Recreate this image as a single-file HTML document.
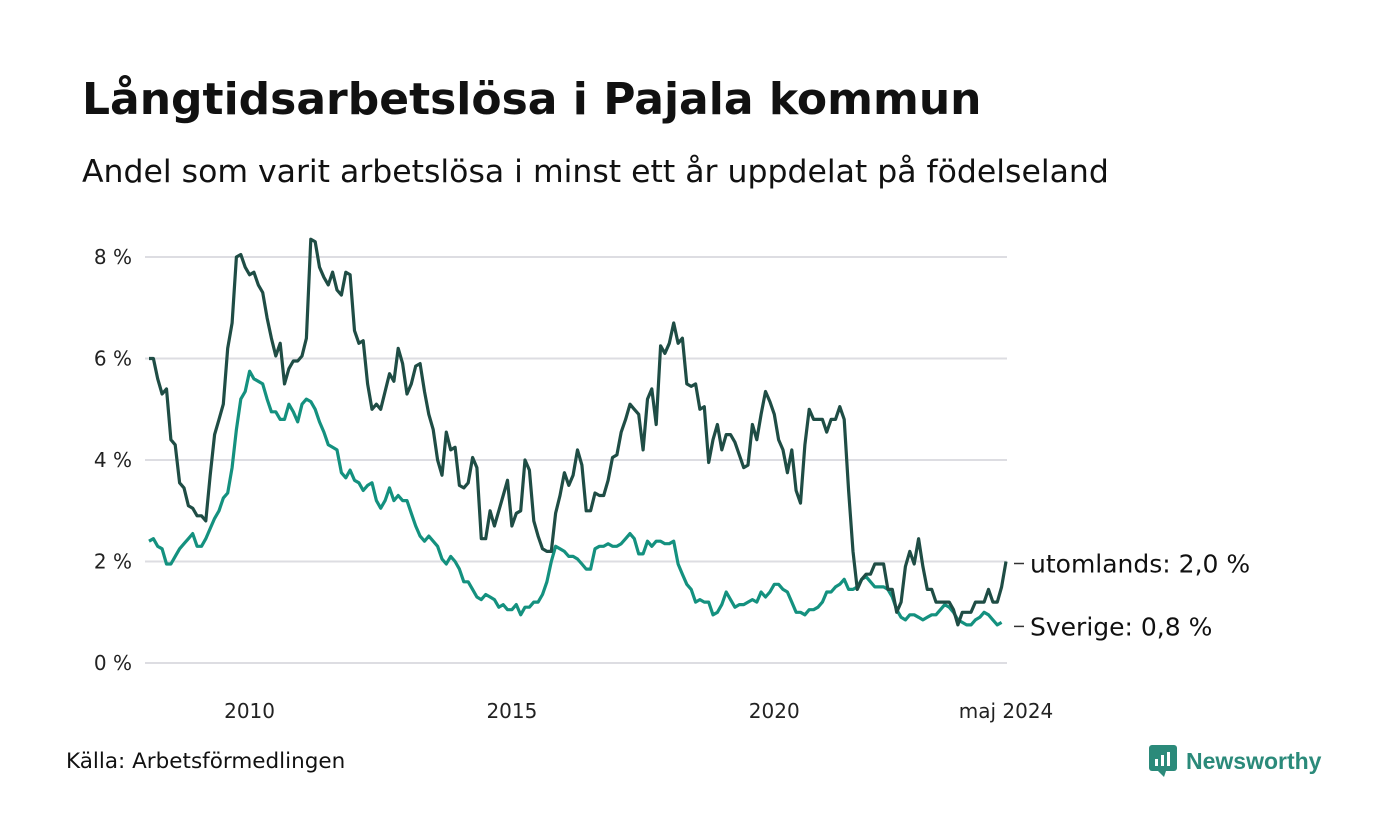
<!DOCTYPE html>
<html><head><meta charset="utf-8"><style>
body{margin:0;width:1400px;height:840px;background:#fff;font-family:"DejaVu Sans","Liberation Sans",sans-serif;overflow:hidden;position:relative}
.t{position:absolute;left:82px;top:74px;font-size:44px;font-weight:bold;color:#111}
.s{position:absolute;left:82px;top:154px;font-size:31.5px;color:#111}
.src{position:absolute;left:66px;top:749px;font-size:21.5px;color:#111}
.logo{position:absolute;left:1148px;top:744px;font-size:23px;font-weight:bold;color:#2b8a7a;display:flex;align-items:center;gap:8px;font-family:"Liberation Sans",sans-serif}
</style></head><body>
<div class="t">Långtidsarbetslösa i Pajala kommun</div>
<div class="s">Andel som varit arbetslösa i minst ett år uppdelat på födelseland</div>
<svg id="chart" width="1400" height="840" style="position:absolute;left:0;top:0"></svg>
<div class="src">Källa: Arbetsförmedlingen</div>
<div class="logo"><svg width="30" height="34"><rect x="1" y="1" width="28" height="26" rx="3" fill="#2b8a7a"/><polygon points="10,27 16,33 18,27" fill="#2b8a7a"/><rect x="7" y="15" width="3" height="7" fill="#fff"/><rect x="13" y="11" width="3" height="11" fill="#fff"/><rect x="19" y="8" width="3" height="14" fill="#fff"/></svg><span>Newsworthy</span></div>
<script>
const yTicks=[0,2,4,6,8];
const yTickLabels=["0 %","2 %","4 %","6 %","8 %"];
const xTicks=[2010,2015,2020];
const startYear=2008+1/12;
const utomlands=[6.0,6.0,5.6,5.3,5.4,4.4,4.3,3.55,3.45,3.1,3.05,2.9,2.9,2.8,3.7,4.5,4.8,5.1,6.2,6.7,8.0,8.05,7.8,7.65,7.7,7.45,7.3,6.8,6.4,6.05,6.3,5.5,5.8,5.95,5.95,6.05,6.4,8.35,8.3,7.8,7.6,7.45,7.7,7.35,7.25,7.7,7.65,6.55,6.3,6.35,5.5,5.0,5.1,5.0,5.35,5.7,5.55,6.2,5.9,5.3,5.5,5.85,5.9,5.35,4.9,4.6,4.0,3.7,4.55,4.2,4.25,3.5,3.45,3.55,4.05,3.85,2.45,2.45,3.0,2.7,3.0,3.3,3.6,2.7,2.95,3.0,4.0,3.8,2.8,2.5,2.25,2.2,2.2,2.95,3.3,3.75,3.5,3.7,4.2,3.9,3.0,3.0,3.35,3.3,3.3,3.6,4.05,4.1,4.55,4.8,5.1,5.0,4.9,4.2,5.2,5.4,4.7,6.25,6.1,6.3,6.7,6.3,6.4,5.5,5.45,5.5,5.0,5.05,3.95,4.4,4.7,4.2,4.5,4.5,4.35,4.1,3.85,3.9,4.7,4.4,4.9,5.35,5.15,4.9,4.4,4.2,3.75,4.2,3.4,3.15,4.3,5.0,4.8,4.8,4.8,4.55,4.8,4.8,5.05,4.8,3.4,2.2,1.45,1.65,1.75,1.75,1.95,1.95,1.95,1.45,1.45,1.0,1.2,1.9,2.2,1.95,2.45,1.9,1.45,1.45,1.2,1.2,1.2,1.2,1.05,0.75,1.0,1.0,1.0,1.2,1.2,1.2,1.45,1.2,1.2,1.5,2.0];
const sverige=[2.4,2.45,2.3,2.25,1.95,1.95,2.1,2.25,2.35,2.45,2.55,2.3,2.3,2.45,2.65,2.85,3.0,3.25,3.35,3.85,4.6,5.2,5.35,5.75,5.6,5.55,5.5,5.2,4.95,4.95,4.8,4.8,5.1,4.95,4.75,5.1,5.2,5.15,5.0,4.75,4.55,4.3,4.25,4.2,3.75,3.65,3.8,3.6,3.55,3.4,3.5,3.55,3.2,3.05,3.2,3.45,3.2,3.3,3.2,3.2,2.95,2.7,2.5,2.4,2.5,2.4,2.3,2.05,1.95,2.1,2.0,1.85,1.6,1.6,1.45,1.3,1.25,1.35,1.3,1.25,1.1,1.15,1.05,1.05,1.15,0.95,1.1,1.1,1.2,1.2,1.35,1.6,2.0,2.3,2.25,2.2,2.1,2.1,2.05,1.95,1.85,1.85,2.25,2.3,2.3,2.35,2.3,2.3,2.35,2.45,2.55,2.45,2.15,2.15,2.4,2.3,2.4,2.4,2.35,2.35,2.4,1.95,1.75,1.55,1.45,1.2,1.25,1.2,1.2,0.95,1.0,1.15,1.4,1.25,1.1,1.15,1.15,1.2,1.25,1.2,1.4,1.3,1.4,1.55,1.55,1.45,1.4,1.2,1.0,1.0,0.95,1.05,1.05,1.1,1.2,1.4,1.4,1.5,1.55,1.65,1.45,1.45,1.5,1.65,1.7,1.6,1.5,1.5,1.5,1.45,1.3,1.05,0.9,0.85,0.95,0.95,0.9,0.85,0.9,0.95,0.95,1.05,1.15,1.1,1.0,0.85,0.8,0.75,0.75,0.85,0.9,1.0,0.95,0.85,0.75,0.8];
const svg=document.getElementById('chart');const NS='http://www.w3.org/2000/svg';
const FF='DejaVu Sans, Liberation Sans, sans-serif';
const n=Math.max(utomlands.length,sverige.length);
const endYear=startYear+(n-1)/12;
const x=t=>149+(t-startYear)/(endYear-startYear)*(1006-149);
const y=v=>663-v*50.75;
function mk(tag,attrs,parent){const e=document.createElementNS(NS,tag);for(const k in attrs)e.setAttribute(k,attrs[k]);(parent||svg).appendChild(e);return e;}
yTicks.forEach((v,i)=>{
 const g=mk('line',{x1:145,x2:1007,y1:y(v),y2:y(v),stroke:'#dddde2','stroke-width':2});
 
 
 const t=mk('text',{x:132,y:y(v)+7,'text-anchor':'end','font-size':20,fill:'#222','font-family':FF});
 t.textContent=yTickLabels[i];
 
 
});
xTicks.forEach(yr=>{
 const t=mk('text',{x:x(yr),y:718,'text-anchor':'middle','font-size':20,fill:'#222','font-family':FF});
 t.textContent=yr;
 
 
});
const lt=mk('text',{x:1006,y:718,'text-anchor':'middle','font-size':20,fill:'#222','font-family':FF});
lt.textContent='maj 2024';


function line(data){return data.map((v,i)=>(i?'L':'M')+x(startYear+i/12).toFixed(1)+' '+y(v).toFixed(1)).join(' ');}
const p2=mk('path',{d:line(sverige),fill:'none',stroke:'#14917f','stroke-width':3.2,'stroke-linejoin':'round'});


const p1=mk('path',{d:line(utomlands),fill:'none',stroke:'#1f4d45','stroke-width':3.2,'stroke-linejoin':'round'});


function lab(txt,name,ly){
 const l=mk('line',{x1:1014,x2:1024,y1:ly,y2:ly,stroke:'#333','stroke-width':1.5});
 
 
 const t=mk('text',{x:1030,y:ly+9,'font-size':25,fill:'#111','font-family':FF});
 t.textContent=txt;
 
 
}
const lu=utomlands[utomlands.length-1], ls=sverige[sverige.length-1];
lab('utomlands: '+lu.toFixed(1).replace('.',',')+' %','label-utomlands',y(lu)+2);
lab('Sverige: '+ls.toFixed(1).replace('.',',')+' %','label-sverige',y(ls)+4);
</script>
</body></html>
